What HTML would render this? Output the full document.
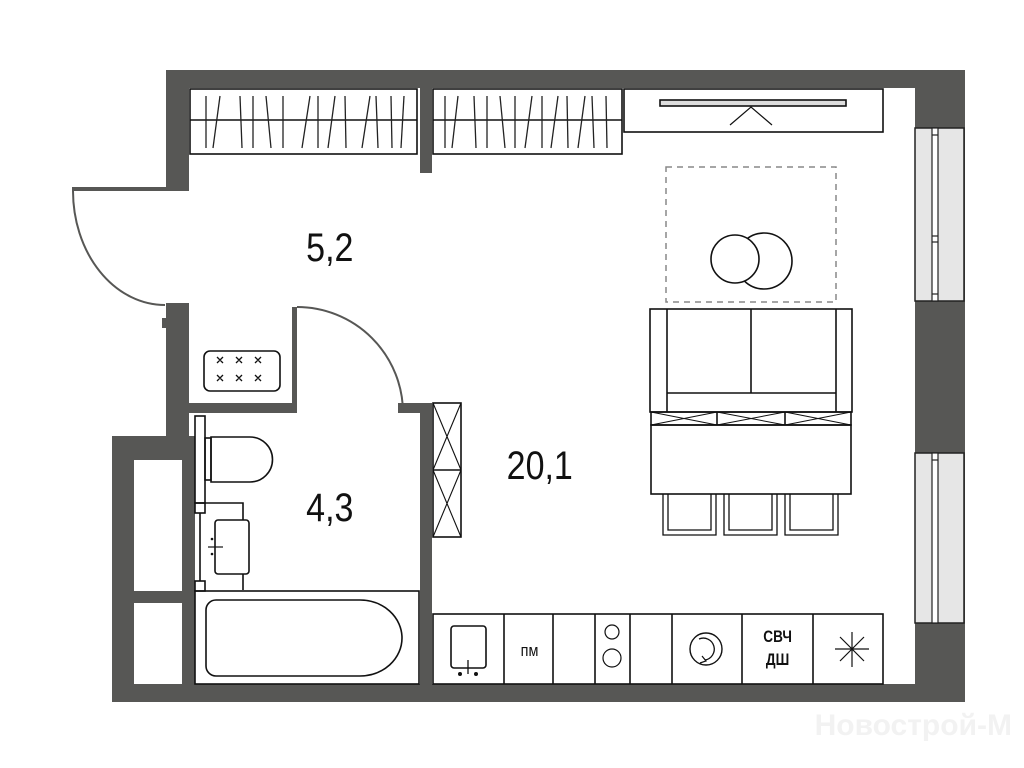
<!DOCTYPE html>
<html><head><meta charset="utf-8"><style>
html,body{margin:0;padding:0;background:#fff;width:1024px;height:768px;overflow:hidden}
svg{display:block}
text{font-family:"Liberation Sans",sans-serif}
</style></head><body>
<svg width="1024" height="768" viewBox="0 0 1024 768" xmlns="http://www.w3.org/2000/svg">
<g fill="#575755">
 <rect x="166" y="70" width="799" height="18"/>
 <rect x="915" y="70" width="50" height="632"/>
 <rect x="112" y="684" width="853" height="18"/>
 <rect x="166" y="70" width="23" height="120"/>
 <rect x="72" y="187" width="117" height="4"/>
 <rect x="166" y="303" width="23" height="157"/>
 <rect x="162" y="318" width="5" height="10"/>
 <rect x="112" y="436" width="77" height="24"/>
 <rect x="112" y="436" width="22" height="266"/>
 <rect x="182" y="436" width="13" height="266"/>
 <rect x="134" y="591" width="50" height="12"/>
 <rect x="420" y="88" width="12" height="85"/>
 <rect x="189" y="403" width="103" height="10"/>
 <rect x="292" y="307" width="5" height="106"/>
 <rect x="398" y="403" width="34" height="10"/>
 <rect x="420" y="403" width="12" height="281"/>
</g>
<g fill="none" stroke="#575755" stroke-width="2">
 <path d="M73,191 A92,114 0 0 0 165,305"/>
 <path d="M297,307 A106,106 0 0 1 403,413"/>
</g>
<g fill="#e6e6e6" stroke="#222" stroke-width="1.5">
 <rect x="915" y="128" width="49" height="173"/>
 <rect x="915" y="453" width="49" height="170"/>
</g>
<g fill="#fff" stroke="#222" stroke-width="1.2">
 <rect x="932" y="128" width="6" height="173"/>
 <rect x="932" y="453" width="6" height="170"/>
</g>
<g stroke="#222" stroke-width="1.2"><line x1="932" y1="135" x2="938" y2="135"/><line x1="932" y1="236" x2="938" y2="236"/><line x1="932" y1="242" x2="938" y2="242"/><line x1="932" y1="294" x2="938" y2="294"/><line x1="932" y1="460" x2="938" y2="460"/></g>
<g fill="none" stroke="#111" stroke-width="1.6">
 <rect x="190" y="89" width="227" height="65"/>
 <rect x="433" y="89" width="189" height="65"/>
 <line x1="190" y1="120" x2="417" y2="120"/>
 <line x1="433" y1="120" x2="622" y2="120"/>
</g>
<g stroke="#222" stroke-width="1.3">
 <line x1="206" y1="96" x2="206" y2="148"/><line x1="220" y1="96" x2="213" y2="148"/><line x1="240" y1="96" x2="242" y2="148"/><line x1="253" y1="96" x2="253" y2="148"/><line x1="266" y1="96" x2="271" y2="148"/><line x1="283" y1="96" x2="283" y2="148"/>
 <line x1="310" y1="96" x2="302" y2="148"/><line x1="318" y1="96" x2="318" y2="148"/><line x1="335" y1="96" x2="328" y2="148"/><line x1="345" y1="96" x2="346" y2="148"/><line x1="370" y1="96" x2="362" y2="148"/><line x1="376" y1="96" x2="378" y2="148"/><line x1="391" y1="96" x2="392" y2="148"/><line x1="404" y1="96" x2="401" y2="148"/>
 <line x1="445" y1="96" x2="445" y2="148"/><line x1="458" y1="96" x2="452" y2="148"/><line x1="474" y1="96" x2="476" y2="148"/><line x1="487" y1="96" x2="487" y2="148"/><line x1="500" y1="96" x2="505" y2="148"/><line x1="515" y1="96" x2="515" y2="148"/>
 <line x1="532" y1="96" x2="525" y2="148"/><line x1="542" y1="96" x2="542" y2="148"/><line x1="558" y1="96" x2="551" y2="148"/><line x1="567" y1="96" x2="568" y2="148"/><line x1="585" y1="96" x2="578" y2="148"/><line x1="592" y1="96" x2="594" y2="148"/><line x1="606" y1="96" x2="607" y2="148"/>
</g>
<g fill="none" stroke="#111" stroke-width="1.6">
 <rect x="624" y="89" width="259" height="43"/>
 <rect x="660" y="100" width="186" height="6" fill="#ddd"/>
 <polyline points="730,125 751,107 772,125" stroke-width="1.2"/>
 <rect x="666" y="167" width="170" height="135" stroke="#888" stroke-width="1.5" stroke-dasharray="6,5"/>
 <circle cx="764" cy="261" r="28"/>
 <circle cx="735" cy="259" r="24" fill="#fff"/>
 <rect x="650" y="309" width="202" height="103"/>
 <line x1="667" y1="309" x2="667" y2="412"/><line x1="836" y1="309" x2="836" y2="412"/>
 <line x1="751" y1="309" x2="751" y2="393"/><line x1="667" y1="393" x2="836" y2="393"/>
 <rect x="651" y="412" width="200" height="13"/>
 <line x1="717" y1="412" x2="717" y2="425"/><line x1="785" y1="412" x2="785" y2="425"/>
 <path d="M651,412 L717,425 M651,425 L717,412 M717,412 L785,425 M717,425 L785,412 M785,412 L851,425 M785,425 L851,412" stroke-width="1"/>
 <rect x="651" y="425" width="200" height="69"/>
 <path d="M663,494 V535 H716 V494 M668,494 V530 H711 V494" stroke-width="1.3"/>
 <path d="M724,494 V535 H777 V494 M729,494 V530 H772 V494" stroke-width="1.3"/>
 <path d="M785,494 V535 H838 V494 M790,494 V530 H833 V494" stroke-width="1.3"/>
 <rect x="433" y="403" width="28" height="134"/>
 <line x1="433" y1="470" x2="461" y2="470"/>
 <path d="M433,403 L461,470 M461,403 L433,470 M433,470 L461,537 M461,470 L433,537" stroke-width="1.1"/>
 <rect x="204" y="351" width="76" height="40" rx="6"/>
 <rect x="195" y="416" width="10" height="87"/>
 <rect x="205" y="438" width="6" height="42"/>
 <path d="M211,437 H250 A22,22 0 0 1 250,482 H211 Z"/>
 <rect x="195" y="503" width="10" height="10"/>
 <rect x="195" y="581" width="10" height="10"/>
 <path d="M205,503 H243 V590 M200,513 V581"/>
 <rect x="215" y="520" width="34" height="54" rx="3" fill="#fff"/>
 <line x1="208" y1="547" x2="223" y2="547" stroke-width="1.2"/>
 <rect x="195" y="591" width="224" height="93"/>
 <path d="M216,600 H360 A42,38 0 0 1 360,676 H216 A10,10 0 0 1 206,666 V610 A10,10 0 0 1 216,600 Z"/>
 <rect x="433" y="614" width="450" height="70"/>
 <path d="M504,614 V684 M553,614 V684 M595,614 V684 M630,614 V684 M672,614 V684 M742,614 V684 M813,614 V684"/>
 <rect x="451" y="626" width="35" height="42" rx="3"/>
 <line x1="468" y1="660" x2="468" y2="674" stroke-width="1.3"/>
 <circle cx="612" cy="632" r="7" stroke-width="1.2"/>
 <circle cx="612" cy="658" r="9" stroke-width="1.2"/>
 <circle cx="706" cy="649" r="16" stroke-width="1.4"/>
 <path d="M699,639 A11,11 0 1 1 705,660" stroke-width="1.3"/>
 <path d="M702,656 L706,661 L700,663" stroke-width="1.2"/>
 <path d="M835,649 H869 M852,632 V667 M840,637 L864,661 M864,637 L840,661" stroke-width="1.2"/>
</g>
<g fill="#111">
 <circle cx="460" cy="674" r="2"/><circle cx="476" cy="674" r="2"/>
 <circle cx="212" cy="539" r="1.3"/><circle cx="212" cy="554" r="1.3"/>
</g>
<g stroke="#111" stroke-width="1.3">
 <path d="M217,357 l6,6 M223,357 l-6,6 M236,357 l6,6 M242,357 l-6,6 M255,357 l6,6 M261,357 l-6,6"/>
 <path d="M217,375 l6,6 M223,375 l-6,6 M236,375 l6,6 M242,375 l-6,6 M255,375 l6,6 M261,375 l-6,6"/>
</g>
<g fill="#111" font-size="40" text-anchor="middle">
 <text x="330" y="261" transform="scale(0.85,1) translate(58,0)">5,2</text>
 <text x="330" y="521" transform="scale(0.85,1) translate(58,0)">4,3</text>
 <text x="540" y="479" transform="scale(0.85,1) translate(95,0)">20,1</text>
</g>
<g fill="#111" text-anchor="middle">
 <text x="0" y="656" font-size="17" transform="scale(0.85,1) translate(623,0)">пм</text>
 <text x="0" y="642" font-size="17" font-weight="bold" transform="scale(0.8,1) translate(972,0)">СВЧ</text>
 <text x="0" y="665" font-size="17" font-weight="bold" transform="scale(0.8,1) translate(972,0)">ДШ</text>
</g>
<text x="1012" y="735" font-size="30" font-weight="bold" text-anchor="end" fill="#f2f2f2">Новострой-М</text>
</svg>
</body></html>
